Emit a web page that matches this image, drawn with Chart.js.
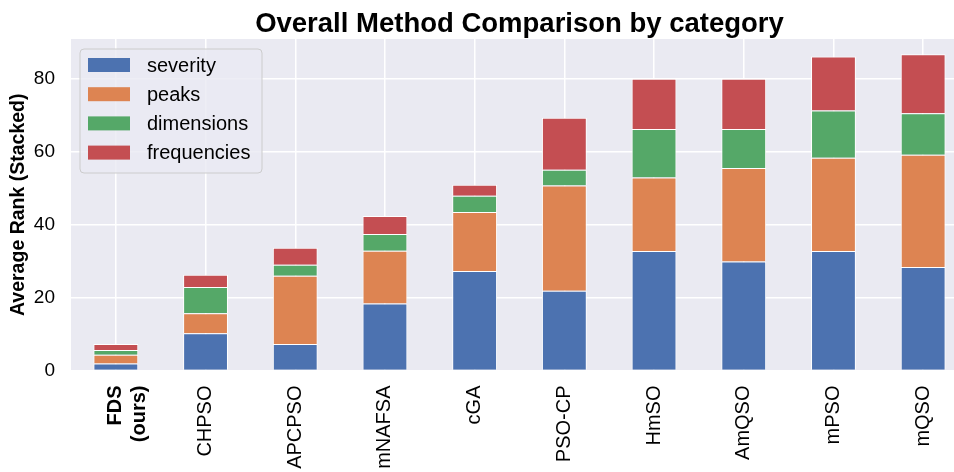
<!doctype html>
<html lang="en">

<head>
    <meta charset="utf-8">
    <title>Overall Method Comparison by category</title>
    <script src="https://cdn.jsdelivr.net/npm/chart.js"></script>
    <style>
        html, body { margin: 0; padding: 0; overflow: hidden; background: #fff; }
        #wrap { width: 954px; height: 472px; overflow: hidden; }
    </style>
</head>

<body>
    <div id="wrap">
        <canvas id="rankChart" width="970" height="472"></canvas>
    </div>

    <script>
        // Methods and their stacked average ranks per category
        const methods = [['FDS', '(ours)'], 'CHPSO', 'APCPSO', 'mNAFSA', 'cGA', 'PSO-CP', 'HmSO', 'AmQSO', 'mPSO', 'mQSO'];
        const severity    = [1.9, 10.2, 7.3, 18.4, 27.3, 21.9, 32.8, 29.9, 32.8, 28.4];
        const peaks       = [2.4, 5.5, 18.7, 14.5, 16.2, 28.9, 20.2, 25.7, 25.6, 30.8];
        const dimensions  = [1.3, 7.2, 3.0, 4.6, 4.5, 4.3, 13.3, 10.7, 13.0, 11.4];
        const frequencies = [1.7, 3.4, 4.7, 4.9, 3.0, 14.3, 13.8, 13.8, 14.8, 16.2];
        const yTicks = [0, 20, 40, 60, 80];

        const FONT = "'Liberation Sans', Arial, sans-serif";

        // Grey panel behind the bars
        const panelBg = {
            id: 'panelBg',
            beforeDraw(chart) {
                const { ctx, chartArea: a } = chart;
                ctx.save();
                ctx.fillStyle = '#EAEAF2';
                ctx.fillRect(a.left, a.top, a.right - a.left, a.bottom - a.top);
                ctx.restore();
            }
        };

        // Title centred over the plot panel
        const panelTitle = {
            id: 'panelTitle',
            afterDraw(chart) {
                const { ctx, chartArea: a } = chart;
                ctx.save();
                ctx.font = "bold 27.5px " + FONT;
                ctx.fillStyle = '#000';
                ctx.textAlign = 'center';
                ctx.textBaseline = 'alphabetic';
                ctx.fillText('Overall Method Comparison by category', (a.left + a.right) / 2, 32);
                ctx.restore();
            }
        };

        // Legend box in the upper left corner of the panel
        const innerLegend = {
            id: 'innerLegend',
            afterDatasetsDraw(chart) {
                const { ctx, chartArea: a } = chart;
                const x = a.left + 9, y = a.top + 10, w = 182, h = 124;
                ctx.save();
                ctx.beginPath();
                ctx.roundRect(x, y, w, h, 4);
                ctx.fillStyle = 'rgba(234,234,242,0.8)';
                ctx.fill();
                ctx.strokeStyle = '#cccccc';
                ctx.lineWidth = 1;
                ctx.stroke();
                ctx.font = "20px " + FONT;
                ctx.textBaseline = 'middle';
                chart.data.datasets.forEach((ds, i) => {
                    const cy = y + 16 + i * 29.2;
                    ctx.fillStyle = ds.backgroundColor;
                    ctx.fillRect(x + 8, cy - 7, 42, 14);
                    ctx.fillStyle = '#000';
                    ctx.fillText(ds.label, x + 67, cy + 1);
                });
                ctx.restore();
            }
        };

        const data = {
            labels: methods,
            datasets: [
                { label: 'severity', data: severity, backgroundColor: '#4C72B0' },
                { label: 'peaks', data: peaks, backgroundColor: '#DD8452' },
                { label: 'dimensions', data: dimensions, backgroundColor: '#55A868' },
                { label: 'frequencies', data: frequencies, backgroundColor: '#C44E52' }
            ].map(d => Object.assign(d, {
                borderColor: '#ffffff',
                borderWidth: 1,
                categoryPercentage: 1.0,
                barPercentage: 0.5
            }))
        };

        const config = {
            type: 'bar',
            data: data,
            options: {
                responsive: false,
                animation: false,
                layout: { padding: { top: 39, right: 2, left: 0, bottom: 0 } },
                plugins: {
                    legend: { display: false },
                    title: { display: false },
                    tooltip: { enabled: false }
                },
                scales: {
                    x: {
                        stacked: true,
                        border: { display: false },
                        grid: { color: '#ffffff', lineWidth: 1.5, offset: false, drawTicks: false },
                        ticks: {
                            color: '#000',
                            minRotation: 90,
                            maxRotation: 90,
                            padding: 15,
                            font: (c) => ({ family: FONT, size: 20, weight: c.index === 0 ? 'bold' : 'normal' })
                        },
                        afterFit(scale) { scale.height = 101.5; }
                    },
                    y: {
                        stacked: true,
                        min: 0,
                        max: 91,
                        border: { display: false },
                        grid: { color: '#ffffff', lineWidth: 1.5, drawTicks: false },
                        afterBuildTicks(scale) { scale.ticks = yTicks.map(v => ({ value: v })); },
                        ticks: {
                            color: '#000',
                            padding: 16,
                            font: { family: FONT, size: 19 }
                        },
                        title: {
                            display: true,
                            text: 'Average Rank (Stacked)',
                            color: '#000',
                            padding: { top: 7, bottom: 0 },
                            font: { family: FONT, size: 19.5, weight: 'bold' }
                        },
                        afterFit(scale) { scale.width = 71; }
                    }
                }
            },
            plugins: [panelBg, innerLegend, panelTitle]
        };

        new Chart(document.getElementById('rankChart'), config);
    </script>
</body>

</html>
